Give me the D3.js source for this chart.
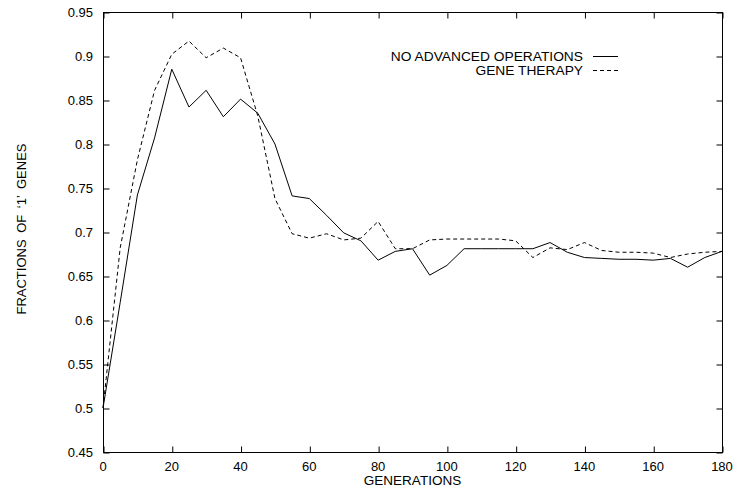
<!DOCTYPE html>
<html>
<head>
<meta charset="utf-8">
<script src="https://cdn.jsdelivr.net/npm/d3@7"></script>
<style>
  html, body { margin: 0; padding: 0; background: #fff; }
  svg { display: block; }
  text { font-family: "Liberation Sans", Arial, Helvetica, sans-serif; font-size: 13px; fill: #000; }
</style>
</head>
<body>
<svg id="chart" width="734" height="489"></svg>
<script>
const generations = d3.range(0, 181, 5);
const noAdvanced = [0.500, 0.620, 0.742, 0.807, 0.885, 0.842, 0.861, 0.831, 0.851, 0.835,
  0.800, 0.741, 0.738, 0.719, 0.699, 0.690, 0.668, 0.678, 0.681, 0.651,
  0.662, 0.681, 0.681, 0.681, 0.681, 0.681, 0.688, 0.677, 0.671, 0.670,
  0.669, 0.669, 0.668, 0.670, 0.660, 0.671, 0.678];
const geneTherapy = [0.500, 0.682, 0.782, 0.861, 0.902, 0.917, 0.898, 0.909, 0.898, 0.832,
  0.738, 0.698, 0.693, 0.698, 0.691, 0.693, 0.712, 0.681, 0.681, 0.691,
  0.692, 0.692, 0.692, 0.692, 0.690, 0.671, 0.682, 0.680, 0.688, 0.679,
  0.677, 0.677, 0.676, 0.671, 0.675, 0.677, 0.678];
const seriesNames = ["NO ADVANCED OPERATIONS", "GENE THERAPY"];
const xTicks = [0, 20, 40, 60, 80, 100, 120, 140, 160, 180];
const yTicks = [0.45, 0.5, 0.55, 0.6, 0.65, 0.7, 0.75, 0.8, 0.85, 0.9, 0.95];
const xTitle = "GENERATIONS";
const yTitle = "FRACTIONS OF \u20181\u2019 GENES";

(function () {
const svg = d3.select("#chart");
const mL = 103, mR = 722, mT = 12, mB = 452;
const x = d3.scaleLinear().domain([0, 180]).range([mL, mR]);
const y = d3.scaleLinear().domain([0.45, 0.95]).range([mB, mT]);
const tickLen = 6;
const fmt = v => String(+v.toFixed(2));

// frame
svg.append("rect")
  .attr("x", mL + 0.5).attr("y", mT + 0.5)
  .attr("width", mR - mL).attr("height", mB - mT)
  .attr("fill", "none").attr("stroke", "#000").attr("stroke-width", 1);

// axes (inward ticks on all sides)
const gB = svg.append("g").attr("transform", `translate(0.5,${mB + 0.5})`)
  .call(d3.axisTop(x).tickValues(xTicks).tickSize(tickLen).tickFormat(""));
const gT = svg.append("g").attr("transform", `translate(0.5,${mT + 0.5})`)
  .call(d3.axisBottom(x).tickValues(xTicks).tickSize(tickLen).tickFormat(""));
const gL = svg.append("g").attr("transform", `translate(${mL + 0.5},0.5)`)
  .call(d3.axisRight(y).tickValues(yTicks).tickSize(tickLen).tickFormat(""));
const gR = svg.append("g").attr("transform", `translate(${mR + 0.5},0.5)`)
  .call(d3.axisLeft(y).tickValues(yTicks).tickSize(tickLen).tickFormat(""));
[gB, gT, gL, gR].forEach(g => {
  g.select(".domain").remove();
  g.selectAll("line").attr("stroke", "#000");
});

// tick labels
svg.append("g").selectAll("text").data(xTicks).join("text")
  .attr("x", d => x(d)).attr("y", 471)
  .attr("text-anchor", "middle").text(d => d);
svg.append("g").selectAll("text").data(yTicks).join("text")
  .attr("x", 93).attr("y", d => y(d)).attr("dy", "0.36em")
  .attr("text-anchor", "end").text(fmt);

// axis titles
svg.append("text").attr("transform", "translate(412.5,484.5) scale(1.04,1)")
  .attr("text-anchor", "middle").text(xTitle);
svg.append("text").attr("transform", "translate(26,229) rotate(-90)")
  .attr("text-anchor", "middle").attr("word-spacing", "3px").text(yTitle);

// lines
const line = d3.line().x((d, i) => x(generations[i])).y(d => y(d));
const dashes = [null, "4,3"];
[noAdvanced, geneTherapy].forEach((s, k) => {
  svg.append("path").datum(s)
    .attr("d", line)
    .attr("fill", "none").attr("stroke", "#000").attr("stroke-width", 1)
    .attr("stroke-dasharray", dashes[k]);
});

// legend
const legY = [56, 70];
seriesNames.forEach((name, k) => {
  svg.append("text").attr("transform", `translate(583,${legY[k]}) scale(1.06,1)`)
    .attr("dy", "0.36em")
    .attr("text-anchor", "end").text(name);
  svg.append("line")
    .attr("x1", 593).attr("x2", 618)
    .attr("y1", legY[k] + 0.5).attr("y2", legY[k] + 0.5)
    .attr("stroke", "#000").attr("stroke-width", 1)
    .attr("stroke-dasharray", dashes[k]);
});
})();
</script>
</body>
</html>
